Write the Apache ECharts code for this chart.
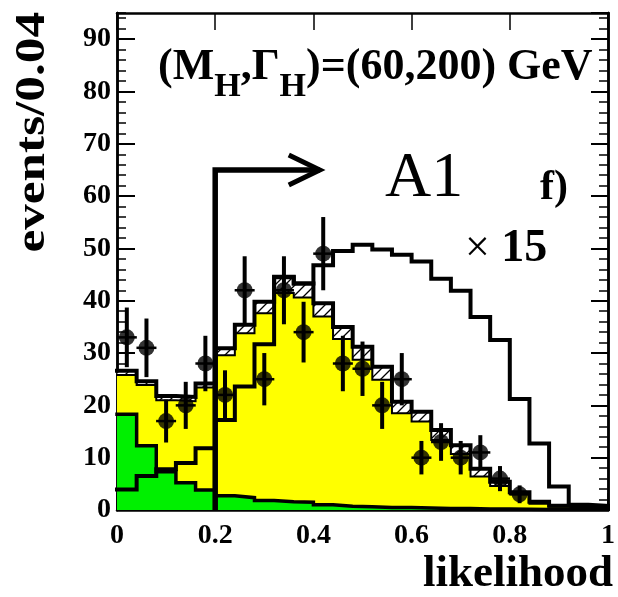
<!DOCTYPE html>
<html>
<head>
<meta charset="utf-8">
<script src="https://cdn.jsdelivr.net/npm/echarts@6/dist/echarts.min.js"></script>
<style>
  html, body { margin: 0; padding: 0; background: #fff; }
  #chart { width: 618px; height: 597px; }
</style>
</head>
<body>
<div id="chart"></div>
<script>
// bin lower edges, width 0.04
var binLow = [0, 0.04, 0.08, 0.12, 0.16, 0.2, 0.24, 0.28, 0.32, 0.36, 0.4, 0.44, 0.48,
  0.52, 0.56, 0.6, 0.64, 0.68, 0.72, 0.76, 0.8, 0.84, 0.88, 0.92, 0.96];
var binEnd = 1;

// green: 4-fermion background
var fourFermion = [18.3, 12.3, 7.3, 5.2, 3.8, 2.7, 2.35, 1.8, 1.6, 1.5, 1.0, 0.7, 0.6,
  0.5, 0.5, 0.4, 0.3, 0.3, 0.2, 0.2, 0.15, 0.1, 0.1, 0.1, 0.1];
// yellow: total background (stacked)
var bkgSum = [25.8, 23.9, 21.0, 20.8, 23.4, 29.6, 33.8, 37.6, 41.5, 40.6, 37.0, 32.7, 28.7,
  24.9, 18.5, 16.9, 13.4, 10.7, 6.4, 4.6, 3.0, 1.2, 0.6, 0.3, 0.2];
// top of hatched band
var bkgUp = [26.6, 24.6, 21.8, 21.6, 24.2, 30.9, 35.4, 39.8, 44.6, 43.3, 39.5, 35.0, 31.2,
  27.4, 20.7, 18.8, 15.3, 12.4, 7.9, 5.4, 3.4, 1.6, 0.8, 0.5, 0.3];
// signal x 15
var signal15 = [3.9, 6.5, 7.8, 9.0, 11.8, 17.2, 23.6, 31.7, 44.5, 43.3, 46.8, 49.5, 50.7,
  49.8, 48.8, 47.5, 44.2, 41.9, 36.9, 32.5, 21.2, 12.7, 4.5, 1.0, 0.8];

// data
var dataX = [0.02, 0.06, 0.10, 0.14, 0.18, 0.22, 0.26, 0.30, 0.34, 0.38, 0.42, 0.46, 0.50,
  0.54, 0.58, 0.62, 0.66, 0.70, 0.74, 0.78, 0.82];
var dataY = [33, 31, 17, 20, 28, 22, 42, 25, 42, 34, 49, 28, 27, 20, 25, 10, 13, 10, 11, 6, 3];
var dataErr = [5.7, 5.6, 4.1, 4.5, 5.3, 4.7, 6.5, 5.0, 6.5, 5.8, 7.0, 5.3, 5.2, 4.5, 5.0,
  3.2, 3.6, 3.2, 3.3, 2.4, 1.7];

var cutValue = 0.2, arrowLevel = 65, arrowTip = 0.413;

var FONT = 'Liberation Serif';

function stepData(vals) {
  var d = binLow.map(function (x, i) { return [x, vals[i]]; });
  d.push([binEnd, vals[vals.length - 1]]);
  return d;
}

// hatch pattern
var hatch = document.createElement('canvas');
hatch.width = 10; hatch.height = 10;
var hc = hatch.getContext('2d');
hc.fillStyle = '#fff';
hc.fillRect(0, 0, 10, 10);
hc.strokeStyle = '#000';
hc.lineWidth = 1.3;
hc.beginPath();
hc.moveTo(0, 10); hc.lineTo(10, 0);
hc.moveTo(-1, 1); hc.lineTo(1, -1);
hc.moveTo(9, 11); hc.lineTo(11, 9);
hc.stroke();

var myChart = echarts.init(document.getElementById('chart'), null, { renderer: 'canvas' });

function areaSeries(vals, color, z) {
  return {
    type: 'line', step: 'end', data: stepData(vals), symbol: 'none', silent: true,
    lineStyle: { width: 0, opacity: 0 }, areaStyle: { color: color, opacity: 1 }, z: z
  };
}
function outlineSeries(vals, width, z) {
  return {
    type: 'line', step: 'end', data: stepData(vals), symbol: 'none', silent: true,
    lineStyle: { color: '#000', width: width, join: 'miter', cap: 'square' }, z: z
  };
}

var yBase = { type: 'value', min: 0, max: 95, axisLine: { show: true, lineStyle: { color: '#000', width: 2.5 } },
  splitLine: { show: false } };

var option = {
  animation: false,
  backgroundColor: '#fff',
  grid: { left: 117, right: 5, top: 13, bottom: 87 },
  xAxis: [
    {
      type: 'value', min: 0, max: 1, interval: 0.2, position: 'bottom',
      axisLine: { show: true, onZero: false, lineStyle: { color: '#000', width: 2.5 } },
      axisTick: { show: true, inside: true, length: 17, lineStyle: { color: '#000', width: 1.5 } },
      axisLabel: { color: '#000', fontFamily: FONT, fontWeight: 'bold', fontSize: 28, margin: 12,
        formatter: function (v) { return v === 0 || v === 1 ? String(v) : v.toFixed(1); } },
      splitLine: { show: false }
    },
    {
      type: 'value', min: 0, max: 1, interval: 0.2, position: 'top',
      axisLine: { show: true, onZero: false, lineStyle: { color: '#000', width: 2.5 } },
      axisTick: { show: true, inside: true, length: 17, lineStyle: { color: '#000', width: 1.5 } },
      axisLabel: { show: false }, splitLine: { show: false }
    }
  ],
  yAxis: [
    Object.assign({}, yBase, {
      position: 'left', interval: 10,
      axisTick: { show: true, inside: true, length: 18, lineStyle: { color: '#000', width: 2 } },
      axisLabel: { color: '#000', fontFamily: FONT, fontWeight: 'bold', fontSize: 28, margin: 6,
        showMaxLabel: false, formatter: function (v) { return v % 10 === 0 ? String(v) : ''; } }
    }),
    Object.assign({}, yBase, {
      position: 'left', interval: 2,
      axisTick: { show: true, inside: true, length: 9, lineStyle: { color: '#000', width: 1.5 } },
      axisLabel: { show: false }
    }),
    Object.assign({}, yBase, {
      position: 'right', interval: 10,
      axisTick: { show: true, inside: true, length: 17, lineStyle: { color: '#000', width: 2 } },
      axisLabel: { show: false }
    }),
    Object.assign({}, yBase, {
      position: 'right', interval: 2,
      axisTick: { show: true, inside: true, length: 9, lineStyle: { color: '#000', width: 1.5 } },
      axisLabel: { show: false }
    })
  ],
  series: [
    areaSeries(bkgUp, { image: hatch, repeat: 'repeat' }, 1),
    areaSeries(bkgSum, '#ffff00', 2),
    areaSeries(fourFermion, '#00f000', 3),
    outlineSeries(bkgSum, 2, 4),
    outlineSeries(fourFermion, 3.5, 5),
    outlineSeries(bkgUp, 4, 6),
    outlineSeries(signal15, 4, 7),
    {
      type: 'custom', silent: true, z: 8,
      data: [[cutValue, arrowLevel, arrowTip]],
      renderItem: function (params, api) {
        var p0 = api.coord([api.value(0), 0]);
        var p1 = api.coord([api.value(0), api.value(1)]);
        var p2 = api.coord([api.value(2), api.value(1)]);
        return {
          type: 'group', children: [
            { type: 'polyline', shape: { points: [p0, p1, p2] },
              style: { stroke: '#000', lineWidth: 5.5, fill: null, lineJoin: 'miter' } },
            { type: 'polyline', shape: { points: [[p2[0] - 31, p2[1] - 15], p2, [p2[0] - 31, p2[1] + 15]] },
              style: { stroke: '#000', lineWidth: 5, fill: null, lineJoin: 'miter' } }
          ]
        };
      }
    },
    {
      type: 'custom', silent: true, z: 9,
      data: dataX.map(function (x, i) { return [x, dataY[i], dataErr[i]]; }),
      renderItem: function (params, api) {
        var x = api.value(0), y = api.value(1), e = api.value(2);
        var t = api.coord([x, y + e]), b = api.coord([x, Math.max(0, y - e)]), c = api.coord([x, y]);
        return {
          type: 'group', children: [
            { type: 'line', shape: { x1: t[0], y1: t[1], x2: b[0], y2: b[1] }, style: { stroke: '#000', lineWidth: 4 } },
            { type: 'line', shape: { x1: c[0] - 10, y1: c[1], x2: c[0] + 10, y2: c[1] }, style: { stroke: '#000', lineWidth: 2.5 } }
          ]
        };
      }
    },
    {
      type: 'scatter', silent: true, z: 10, symbol: 'circle', symbolSize: 16,
      itemStyle: { color: '#000' },
      data: dataX.map(function (x, i) { return [x, dataY[i]]; })
    }
  ],
  graphic: [
    {
      type: 'text', x: 158, y: 46, z: 20,
      style: {
        text: '{b|(M}{s|H}{b|,Γ}{s|H}{b|)=(60,200) GeV}',
        align: 'left', verticalAlign: 'top', fill: '#000',
        rich: {
          b: { fontFamily: FONT, fontWeight: 'bold', fontSize: 44, lineHeight: 44, verticalAlign: 'top' },
          s: { fontFamily: FONT, fontWeight: 'bold', fontSize: 34, lineHeight: 34, verticalAlign: 'top', padding: [24, 0, 0, 0] }
        }
      }
    },
    {
      type: 'text', x: 385, y: 179, z: 20,
      style: { text: 'A1', fontFamily: FONT, fontSize: 64, fill: '#000', align: 'left', verticalAlign: 'middle' }
    },
    {
      type: 'text', x: 540, y: 188, z: 20,
      style: { text: 'f)', fontFamily: FONT, fontWeight: 'bold', fontSize: 42, fill: '#000', align: 'left', verticalAlign: 'middle' }
    },
    {
      type: 'text', x: 465, y: 249, z: 20,
      style: {
        text: '{x|×}{n| 15}', align: 'left', verticalAlign: 'middle', fill: '#000',
        rich: {
          x: { fontFamily: FONT, fontSize: 44 },
          n: { fontFamily: FONT, fontWeight: 'bold', fontSize: 46 }
        }
      }
    },
    {
      type: 'text', x: 613, y: 574, z: 20,
      style: { text: 'likelihood', fontFamily: FONT, fontWeight: 'bold', fontSize: 45, fill: '#000', align: 'right', verticalAlign: 'middle' }
    },
    {
      type: 'text', x: 33, y: 12, z: 20, rotation: Math.PI / 2, scaleX: 1.22,
      style: { text: 'events/0.04', fontFamily: FONT, fontWeight: 'bold', fontSize: 42, fill: '#000', align: 'right', verticalAlign: 'middle' }
    }
  ]
};

myChart.setOption(option);
window.addEventListener('resize', myChart.resize);
</script>
</body>
</html>
